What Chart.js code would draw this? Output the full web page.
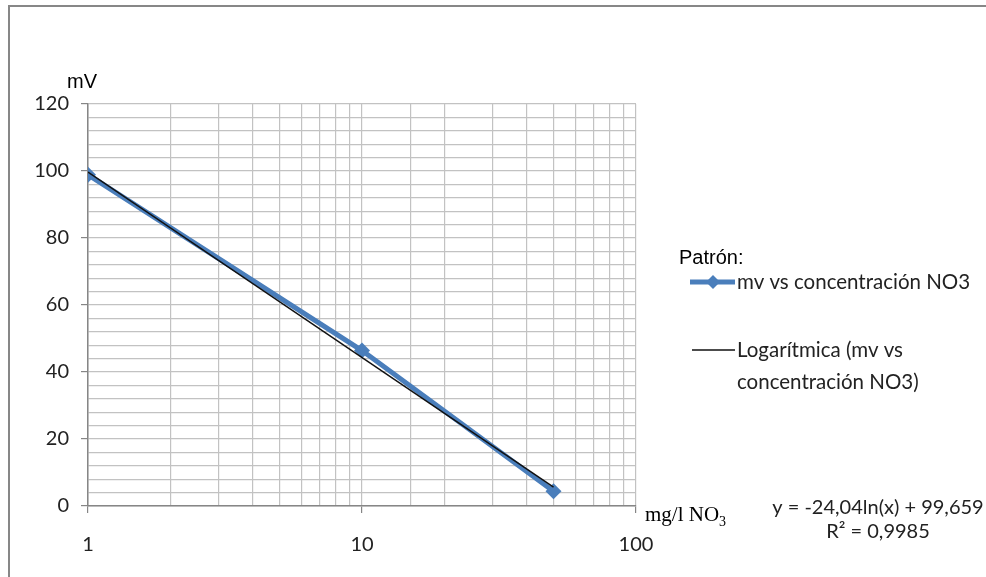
<!DOCTYPE html>
<html>
<head>
<meta charset="utf-8">
<script src="https://cdn.jsdelivr.net/npm/chart.js@4"></script>
<style>
  html, body { margin: 0; padding: 0; background: #fff; }
  #wrap { width: 986px; height: 577px; position: relative; }
</style>
</head>
<body>
<div id="wrap"><canvas id="c" width="986" height="577"></canvas></div>
<script>
// ---- data ----
const concentrations = [1, 10, 50];          // mg/l NO3
const millivolts = [98.9, 46.4, 4.4];        // mV
const trendX = [1, 50];
const trendY = [99.7, 5.6];
const xTickLabels = ['1', '10', '100'];
const yTickLabels = ['0', '20', '40', '60', '80', '100', '120'];
const seriesName = 'mv vs concentración NO3';
const trendNameLines = ['Logarítmica (mv vs', 'concentración NO3)'];
const legendTitle = 'Patrón:';
const yAxisTitle = 'mV';
const equationText = 'y = -24,04ln(x) + 99,659';
const r2Text = 'R² = 0,9985';

const BLUE = '#4a7ebb';
const GRID = '#c2c2c2';
const AXIS = '#868686';
const TICKFONT = { family: 'Lato', size: 20 };

const decor = {
  id: 'decor',
  beforeDraw(chart) {
    const ctx = chart.ctx;
    ctx.save();
    ctx.fillStyle = '#fff';
    ctx.fillRect(0, 0, chart.width, chart.height);
    ctx.strokeStyle = '#878787';
    ctx.lineWidth = 2;
    ctx.strokeRect(9, 6, chart.width + 20, chart.height + 20);
    ctx.restore();
  },
  afterDraw(chart) {
    const ctx = chart.ctx;
    ctx.save();
    // y axis title
    ctx.fillStyle = '#000';
    ctx.font = '20px "Liberation Sans", Arial, sans-serif';
    ctx.textBaseline = 'alphabetic';
    ctx.textAlign = 'left';
    ctx.fillText(yAxisTitle, 67, 88);
    // x axis title (serif, subscript)
    ctx.font = '21px "Liberation Serif", "Times New Roman", serif';
    ctx.fillText('mg/l NO', 645, 521);
    const w = ctx.measureText('mg/l NO').width;
    ctx.font = '14px "Liberation Serif", "Times New Roman", serif';
    ctx.fillText('3', 645 + w, 526);
    // equation
    ctx.fillStyle = '#222';
    ctx.font = '20px Lato, sans-serif';
    ctx.textAlign = 'center';
    ctx.textBaseline = 'middle';
    ctx.fillText(equationText, 878, 508);
    ctx.fillText(r2Text, 878, 532);
    // legend
    ctx.textAlign = 'left';
    ctx.fillStyle = '#000';
    ctx.font = '20px "Liberation Sans", Arial, sans-serif';
    ctx.fillText(legendTitle, 679, 258);
    ctx.strokeStyle = BLUE;
    ctx.lineWidth = 5;
    ctx.beginPath(); ctx.moveTo(690, 282); ctx.lineTo(735, 282); ctx.stroke();
    ctx.fillStyle = BLUE;
    ctx.beginPath();
    ctx.moveTo(713, 275); ctx.lineTo(720, 282); ctx.lineTo(713, 289); ctx.lineTo(706, 282);
    ctx.closePath(); ctx.fill();
    ctx.strokeStyle = '#111';
    ctx.lineWidth = 1.5;
    ctx.beginPath(); ctx.moveTo(692, 350); ctx.lineTo(735, 350); ctx.stroke();
    ctx.fillStyle = '#222';
    ctx.font = '20.5px Lato, sans-serif';
    ctx.fillText(seriesName, 737, 282);
    ctx.fillText(trendNameLines[0], 737, 350);
    ctx.fillText(trendNameLines[1], 737, 382);
    ctx.restore();
  }
};

new Chart(document.getElementById('c'), {
  type: 'scatter',
  data: {
    datasets: [
      {
        label: trendNameLines.join(' '),
        data: trendX.map((x, i) => ({ x, y: trendY[i] })),
        showLine: true,
        borderColor: '#111',
        borderWidth: 1.5,
        pointRadius: 0,
        order: 0
      },
      {
        label: seriesName,
        data: concentrations.map((x, i) => ({ x, y: millivolts[i] })),
        showLine: true,
        borderColor: BLUE,
        backgroundColor: BLUE,
        borderWidth: 5,
        pointStyle: 'rectRot',
        pointRadius: 8,
        pointBorderWidth: 0,
        order: 1
      }
    ]
  },
  options: {
    responsive: false,
    animation: false,
    layout: { padding: { top: 104, right: 350, bottom: 0, left: 0 } },
    plugins: { legend: { display: false }, tooltip: { enabled: false } },
    scales: {
      x: {
        type: 'logarithmic',
        min: 1,
        max: 100,
        afterFit(s) { s.height = 71; },
        border: { display: true, color: AXIS, width: 1.5 },
        grid: {
          color: GRID,
          lineWidth: 1.2,
          tickLength: 7,
          tickColor(ctx) {
            const v = ctx.tick && ctx.tick.value;
            return xTickLabels.includes(String(v)) ? AXIS : 'rgba(0,0,0,0)';
          }
        },
        ticks: {
          autoSkip: false,
          maxRotation: 0,
          padding: 20,
          color: '#222',
          font: TICKFONT,
          callback(v) { return xTickLabels.includes(String(v)) ? String(v) : ''; }
        }
      },
      y: {
        min: 0,
        max: 120,
        afterFit(s) { s.width = 88; },
        border: { display: true, color: AXIS, width: 1.5 },
        grid: {
          color: GRID,
          lineWidth: 1.2,
          tickLength: 7,
          tickColor(ctx) {
            const v = ctx.tick && ctx.tick.value;
            return yTickLabels.includes(String(v)) ? AXIS : 'rgba(0,0,0,0)';
          }
        },
        ticks: {
          stepSize: 4,
          autoSkip: false,
          padding: 12,
          color: '#222',
          font: TICKFONT,
          callback(v) { return yTickLabels.includes(String(v)) ? String(v) : ''; }
        }
      }
    }
  },
  plugins: [decor]
});
</script>
</body>
</html>
